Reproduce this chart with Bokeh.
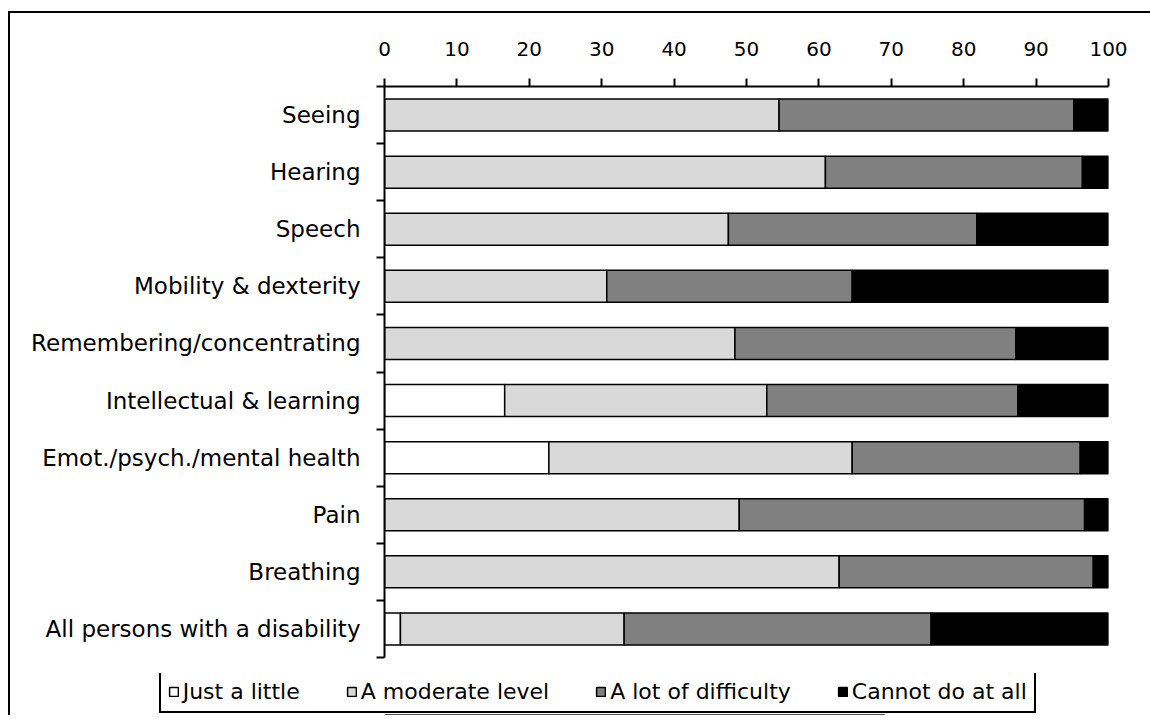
from bokeh.plotting import figure
from bokeh.models import ColumnDataSource, Range1d, FixedTicker, Legend
from bokeh.layouts import column
from bokeh.embed import file_html
from bokeh.resources import INLINE

categories = ["Seeing", "Hearing", "Speech", "Mobility & dexterity",
              "Remembering/concentrating", "Intellectual & learning",
              "Emot./psych./mental health", "Pain", "Breathing",
              "All persons with a disability"]
just_a_little = [0, 0, 0, 0, 0, 16.6, 22.7, 0, 0, 2.2]
moderate = [54.5, 60.9, 47.5, 30.7, 48.4, 36.2, 41.9, 49.0, 62.8, 30.9]
lot_of_difficulty = [40.7, 35.5, 34.3, 33.9, 38.8, 34.7, 31.5, 47.7, 35.1, 42.4]
cannot_do = [4.8, 3.6, 18.2, 35.4, 12.8, 12.5, 3.9, 3.3, 2.1, 24.5]
series_names = ["Just a little", "A moderate level", "A lot of difficulty", "Cannot do at all"]
series_colors = ["#ffffff", "#d9d9d9", "#808080", "#000000"]
x_ticks = list(range(0, 101, 10))

keys = ["little", "moderate", "lot", "cannot"]
pos = [i + 0.5 for i in range(len(categories))]
source = ColumnDataSource(dict(y=pos, little=just_a_little, moderate=moderate,
                               lot=lot_of_difficulty, cannot=cannot_do))

FONT = "DejaVu Sans"

p = figure(frame_width=724, frame_height=571,
           x_range=Range1d(0, 100), y_range=Range1d(len(categories), 0),
           x_axis_location="above", output_backend="svg", toolbar_location=None,
           min_border_left=374, min_border_top=73, min_border_right=42,
           min_border_bottom=16)
p.outline_line_color = None
p.grid.visible = False

p.hbar_stack(keys, y="y", height=0.56, color=series_colors,
             line_color="black", line_width=1.5, source=source)

# x axis (top)
xa = p.xaxis[0]
xa.ticker = FixedTicker(ticks=x_ticks)
xa.axis_line_width = 2
xa.major_tick_out = 8
xa.major_tick_in = 0
xa.major_tick_line_width = 2
xa.minor_tick_out = 0
xa.minor_tick_in = 0
xa.major_label_text_font = FONT
xa.major_label_text_font_size = "20px"
xa.major_label_text_color = "#000000"
xa.major_label_standoff = 23

# y axis (left): labels at centres, ticks at category boundaries
ya = p.yaxis[0]
ya.ticker = FixedTicker(ticks=pos, minor_ticks=list(range(len(categories) + 1)))
ya.major_label_overrides = {pv: c for pv, c in zip(pos, categories)}
ya.axis_line_width = 2
ya.major_tick_out = 0
ya.major_tick_in = 0
ya.minor_tick_out = 8
ya.minor_tick_in = 0
ya.minor_tick_line_width = 2
ya.minor_tick_line_color = "black"
ya.major_label_text_font = FONT
ya.major_label_text_font_size = "23px"
ya.major_label_text_color = "#000000"
ya.major_label_standoff = 16

# legend strip below the chart (proxy glyphs kept outside the visible range)
lg = figure(frame_width=1000, frame_height=42, x_range=Range1d(0, 1), y_range=Range1d(0, 1),
            output_backend="svg", toolbar_location=None,
            min_border_left=70, min_border_right=70, min_border_top=0, min_border_bottom=0)
lg.axis.visible = False
lg.grid.visible = False
lg.outline_line_color = None
proxy = ColumnDataSource(dict(y=[-5], right=[0.5]))
legend_renderers = [lg.hbar(y="y", right="right", height=0.5, source=proxy,
                            fill_color=c, line_color="black", line_width=1.5)
                    for c in series_colors]
legend = Legend(items=[(n, [r]) for n, r in zip(series_names, legend_renderers)],
                orientation="horizontal", location=(102, 2),
                border_line_color="black", border_line_width=2, border_line_alpha=1.0,
                label_text_font=FONT, label_text_font_size="22px",
                label_text_color="#000000",
                glyph_width=11, glyph_height=11, label_standoff=4,
                spacing=46, padding=7, margin=0, label_height=24)
lg.add_layout(legend, "center")

layout = column(p, lg, spacing=0,
                styles={"margin-left": "8px", "margin-top": "11px",
                        "border-left": "2px solid black",
                        "border-top": "2px solid black"})

open("out.html", "w").write(file_html(layout, INLINE))
